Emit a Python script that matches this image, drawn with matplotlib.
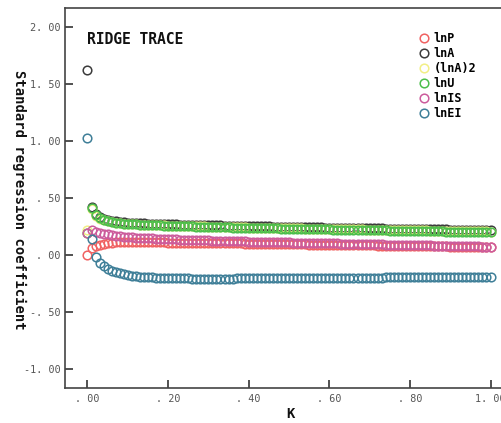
import numpy as np
import matplotlib
matplotlib.use("Agg")
import matplotlib.pyplot as plt

# Ridge parameter grid (0.00 .. 1.00 step 0.01)
K = np.round(np.linspace(0.0, 1.0, 101), 2)

lnP = [0.000, 0.060, 0.080, 0.092, 0.100, 0.105, 0.108, 0.110, 0.111, 0.112,
       0.112, 0.112, 0.112, 0.112, 0.111, 0.111, 0.111, 0.110, 0.110, 0.110,
       0.109, 0.109, 0.108, 0.108, 0.107, 0.107, 0.107, 0.106, 0.106, 0.105,
       0.105, 0.104, 0.104, 0.103, 0.103, 0.102, 0.102, 0.101, 0.101, 0.100,
       0.100, 0.099, 0.099, 0.098, 0.098, 0.097, 0.097, 0.096, 0.096, 0.095,
       0.095, 0.094, 0.094, 0.093, 0.093, 0.092, 0.092, 0.091, 0.091, 0.090,
       0.089, 0.089, 0.088, 0.088, 0.087, 0.087, 0.086, 0.086, 0.085, 0.085,
       0.084, 0.084, 0.083, 0.083, 0.082, 0.082, 0.081, 0.081, 0.080, 0.080,
       0.079, 0.079, 0.078, 0.078, 0.077, 0.077, 0.076, 0.076, 0.075, 0.075,
       0.074, 0.074, 0.073, 0.073, 0.072, 0.072, 0.071, 0.071, 0.070, 0.070,
       0.069]

lnA = [1.620, 0.420, 0.360, 0.335, 0.318, 0.307, 0.300, 0.295, 0.291, 0.288,
       0.285, 0.283, 0.281, 0.279, 0.277, 0.276, 0.274, 0.273, 0.272, 0.271,
       0.270, 0.269, 0.268, 0.267, 0.266, 0.265, 0.264, 0.263, 0.263, 0.262,
       0.261, 0.260, 0.259, 0.259, 0.258, 0.257, 0.256, 0.256, 0.255, 0.254,
       0.253, 0.253, 0.252, 0.251, 0.251, 0.250, 0.249, 0.249, 0.248, 0.247,
       0.247, 0.246, 0.245, 0.245, 0.244, 0.243, 0.243, 0.242, 0.242, 0.241,
       0.240, 0.240, 0.239, 0.239, 0.238, 0.237, 0.237, 0.236, 0.236, 0.235,
       0.234, 0.234, 0.233, 0.233, 0.232, 0.232, 0.231, 0.230, 0.230, 0.229,
       0.229, 0.228, 0.228, 0.227, 0.227, 0.226, 0.225, 0.225, 0.224, 0.224,
       0.223, 0.223, 0.222, 0.222, 0.221, 0.221, 0.220, 0.220, 0.219, 0.219,
       0.218]

lnA2 = [0.220, 0.400, 0.345, 0.318, 0.303, 0.294, 0.288, 0.283, 0.279, 0.276,
        0.273, 0.271, 0.269, 0.267, 0.265, 0.264, 0.262, 0.261, 0.260, 0.259,
        0.258, 0.257, 0.256, 0.255, 0.254, 0.253, 0.252, 0.251, 0.251, 0.250,
        0.249, 0.248, 0.247, 0.247, 0.246, 0.245, 0.244, 0.244, 0.243, 0.242,
        0.241, 0.241, 0.240, 0.239, 0.239, 0.238, 0.237, 0.237, 0.236, 0.235,
        0.235, 0.234, 0.233, 0.233, 0.232, 0.231, 0.231, 0.230, 0.230, 0.229,
        0.228, 0.228, 0.227, 0.227, 0.226, 0.225, 0.225, 0.224, 0.224, 0.223,
        0.222, 0.222, 0.221, 0.221, 0.220, 0.220, 0.219, 0.218, 0.218, 0.217,
        0.217, 0.216, 0.216, 0.215, 0.215, 0.214, 0.213, 0.213, 0.212, 0.212,
        0.211, 0.211, 0.210, 0.210, 0.209, 0.209, 0.208, 0.208, 0.207, 0.207,
        0.206]

lnU = [0.190, 0.415, 0.350, 0.322, 0.305, 0.295, 0.288, 0.283, 0.279, 0.276,
       0.273, 0.271, 0.269, 0.267, 0.265, 0.263, 0.261, 0.260, 0.259, 0.257,
       0.256, 0.255, 0.254, 0.253, 0.252, 0.251, 0.250, 0.249, 0.248, 0.247,
       0.246, 0.245, 0.244, 0.244, 0.243, 0.242, 0.241, 0.240, 0.240, 0.239,
       0.238, 0.237, 0.237, 0.236, 0.235, 0.234, 0.234, 0.233, 0.232, 0.232,
       0.231, 0.230, 0.229, 0.229, 0.228, 0.227, 0.227, 0.226, 0.225, 0.225,
       0.224, 0.223, 0.223, 0.222, 0.221, 0.221, 0.220, 0.219, 0.219, 0.218,
       0.217, 0.217, 0.216, 0.216, 0.215, 0.214, 0.214, 0.213, 0.213, 0.212,
       0.211, 0.211, 0.210, 0.210, 0.209, 0.208, 0.208, 0.207, 0.207, 0.206,
       0.206, 0.205, 0.204, 0.204, 0.203, 0.203, 0.202, 0.202, 0.201, 0.201,
       0.200]

lnIS = [0.190, 0.220, 0.205, 0.195, 0.187, 0.180, 0.175, 0.170, 0.166, 0.162,
        0.159, 0.156, 0.153, 0.151, 0.149, 0.147, 0.145, 0.143, 0.141, 0.139,
        0.138, 0.137, 0.136, 0.135, 0.134, 0.133, 0.132, 0.131, 0.130, 0.129,
        0.128, 0.127, 0.126, 0.125, 0.124, 0.123, 0.122, 0.121, 0.120, 0.119,
        0.118, 0.117, 0.117, 0.116, 0.115, 0.114, 0.113, 0.113, 0.112, 0.111,
        0.110, 0.109, 0.109, 0.108, 0.107, 0.106, 0.106, 0.105, 0.104, 0.103,
        0.103, 0.102, 0.101, 0.100, 0.100, 0.099, 0.098, 0.097, 0.097, 0.096,
        0.095, 0.094, 0.094, 0.093, 0.092, 0.091, 0.091, 0.090, 0.089, 0.088,
        0.088, 0.087, 0.086, 0.085, 0.085, 0.084, 0.083, 0.082, 0.082, 0.081,
        0.080, 0.079, 0.079, 0.078, 0.077, 0.076, 0.076, 0.075, 0.074, 0.073,
        0.073]

lnEI = [1.030, 0.140, -0.020, -0.070, -0.100, -0.122, -0.138, -0.150, -0.160, -0.168,
        -0.175, -0.180, -0.185, -0.189, -0.192, -0.195, -0.197, -0.199, -0.201, -0.202,
        -0.203, -0.204, -0.205, -0.205, -0.206, -0.206, -0.207, -0.207, -0.207, -0.207,
        -0.207, -0.207, -0.207, -0.207, -0.207, -0.207, -0.207, -0.206, -0.206, -0.206,
        -0.206, -0.206, -0.205, -0.205, -0.205, -0.205, -0.204, -0.204, -0.204, -0.204,
        -0.203, -0.203, -0.203, -0.203, -0.202, -0.202, -0.202, -0.202, -0.201, -0.201,
        -0.201, -0.201, -0.200, -0.200, -0.200, -0.200, -0.199, -0.199, -0.199, -0.199,
        -0.198, -0.198, -0.198, -0.198, -0.197, -0.197, -0.197, -0.197, -0.196, -0.196,
        -0.196, -0.196, -0.195, -0.195, -0.195, -0.195, -0.194, -0.194, -0.194, -0.194,
        -0.193, -0.193, -0.193, -0.193, -0.192, -0.192, -0.192, -0.192, -0.191, -0.191,
        -0.191]

series = [("lnP", lnP, "#f06262"),
          ("lnA", lnA, "#3c3c3c"),
          ("(lnA)2", lnA2, "#f2ef86"),
          ("lnU", lnU, "#4cbe4c"),
          ("lnIS", lnIS, "#cc5c9c"),
          ("lnEI", lnEI, "#3f7f98")]

yticks = [-1.0, -0.5, 0.0, 0.5, 1.0, 1.5, 2.0]
ytick_labels = ["-1. 00", "-. 50", ". 00", ". 50", "1. 00", "1. 50", "2. 00"]
xticks = [0.0, 0.2, 0.4, 0.6, 0.8, 1.0]
xtick_labels = [". 00", ". 20", ". 40", ". 60", ". 80", "1. 00"]

fig = plt.figure(figsize=(5.02, 4.23), dpi=100)
ax = fig.add_axes([65/502, 1-388/423, 1-65/502, (388-8)/423])

for name, vals, col in series:
    ax.plot(K, vals, linestyle="none", marker="o", markersize=6.2,
            markerfacecolor="none", markeredgecolor=col, markeredgewidth=1.1,
            label=name)

ax.set_xlim(-0.0558, 1.0285)
ax.set_ylim(-1.167, 2.167)
ax.set_yticks(yticks)
ax.set_yticklabels(ytick_labels)
ax.set_xticks(xticks)
ax.set_xticklabels(xtick_labels)
mono = "DejaVu Sans Mono"
for lab in ax.get_xticklabels() + ax.get_yticklabels():
    lab.set_fontfamily(mono)
    lab.set_fontsize(7.3)
    lab.set_color("#555555")
ax.tick_params(direction="in", length=6, width=1.2, color="#333333")
ax.tick_params(axis="y", pad=3)
ax.tick_params(axis="x", pad=4)
ax.spines["right"].set_visible(False)
for s in ["left", "top", "bottom"]:
    ax.spines[s].set_color("#444444")
    ax.spines[s].set_linewidth(1.2)

fig.text(290/502, 1-414/423, "K", fontsize=10, fontweight="bold", family=mono,
         ha="center", va="center", color="#111111")
fig.text(19/502, 1-200/423, "Standard regression coefficient", fontsize=10,
         fontweight="bold", family=mono, rotation=270, ha="center", va="center",
         color="#111111")

ax.text((87-65)/437, (388-40)/380, "RIDGE TRACE", transform=ax.transAxes,
        fontsize=10.5, fontweight="bold", family=mono, ha="left", va="center",
        color="#111111")

leg = ax.legend(loc="upper left", bbox_to_anchor=(0.797, 0.95), frameon=False,
                prop={"family": mono, "weight": "bold", "size": 8.5},
                handletextpad=0.3, labelspacing=0.18, borderaxespad=0,
                handlelength=1.0, markerscale=1.0)

fig.savefig("out.png", dpi=100)
